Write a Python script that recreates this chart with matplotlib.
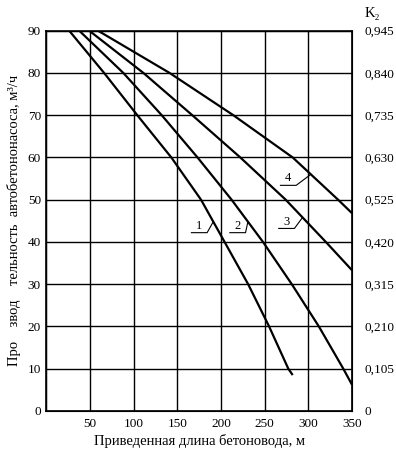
import numpy as np
import matplotlib
matplotlib.use('Agg')
import matplotlib.pyplot as plt

plt.rcParams['font.family'] = ['Liberation Serif', 'DejaVu Serif']

# данные
curve1_x = [26, 66, 104, 143, 177, 204, 231, 255, 277, 282]
curve1_y = [90, 80, 70, 60, 50, 40, 30, 20, 10, 8.5]

curve2_x = [37.5, 88, 132, 173, 212, 248, 281, 312, 340, 350]
curve2_y = [90, 80, 70, 60, 50, 40, 30, 20, 10, 6.2]

curve3_x = [49, 111, 167, 222, 274, 320, 350]
curve3_y = [90, 80, 70, 60, 50, 40, 33.3]

curve4_x = [59, 141, 214, 282, 334, 350]
curve4_y = [90, 80, 70, 60, 50, 46.8]

curve_names = ['1', '2', '3', '4']

x_ticks = [0, 50, 100, 150, 200, 250, 300, 350]
x_tick_labels = ['', '50', '100', '150', '200', '250', '300', '350']
y_ticks = [0, 10, 20, 30, 40, 50, 60, 70, 80, 90]
k2_ticks = [0, 0.105, 0.210, 0.315, 0.420, 0.525, 0.630, 0.735, 0.840, 0.945]
k2_labels = ['0', '0,105', '0,210', '0,315', '0,420', '0,525', '0,630', '0,735', '0,840', '0,945']

# позиции выносок (правый конец полки, высота полки)
label_pos = [(184, 42.2), (228, 42.2), (284, 43.2), (286, 53.4)]

fig, ax = plt.subplots(figsize=(3.96, 4.5), dpi=100)
fig.subplots_adjust(left=0.1174, right=0.889, bottom=0.0867, top=0.9318)

curves = [(curve1_x, curve1_y), (curve2_x, curve2_y),
          (curve3_x, curve3_y), (curve4_x, curve4_y)]
for (cx, cy) in curves:
    ax.plot(cx, cy, color='black', lw=1.6, solid_capstyle='butt')

# выноски с номерами кривых
for (cx, cy), name, (lx, ly) in zip(curves, curve_names, label_pos):
    ty = ly + 2.6
    tx = np.interp(ty, cy[::-1], cx[::-1])
    ax.plot([lx - 18, lx, tx], [ly, ly, ty], color='black', lw=0.8)
    ax.text(lx - 9, ly + 0.2, name, ha='center', va='bottom', fontsize=9)

ax.set_xlim(0, 350)
ax.set_ylim(0, 90)
ax.set_xticks(x_ticks)
ax.set_xticklabels(x_tick_labels)
ax.set_yticks(y_ticks)
ax.grid(True, color='black', lw=1.0)
ax.tick_params(length=0, labelsize=9.5)
ax.tick_params(axis='x', pad=5)
ax.tick_params(axis='y', pad=4)
for s in ax.spines.values():
    s.set_linewidth(1.2)

ax.set_xlabel('Приведенная длина бетоновода, м', fontsize=10.5, labelpad=3)
ax.set_ylabel('Про    звод    тельность  автобетононасоса, м³/ч', fontsize=10.5, labelpad=5)

# правая ось К2
ax2 = ax.twinx()
ax2.set_ylim(0, 0.945)
ax2.set_yticks(k2_ticks)
ax2.set_yticklabels(k2_labels)
ax2.tick_params(length=0, labelsize=9.5, pad=9)
ax2.text(1.04, 1.045, 'K₂', transform=ax2.transAxes, fontsize=10.5, ha='left', va='center')

fig.savefig('out.png', dpi=100)
